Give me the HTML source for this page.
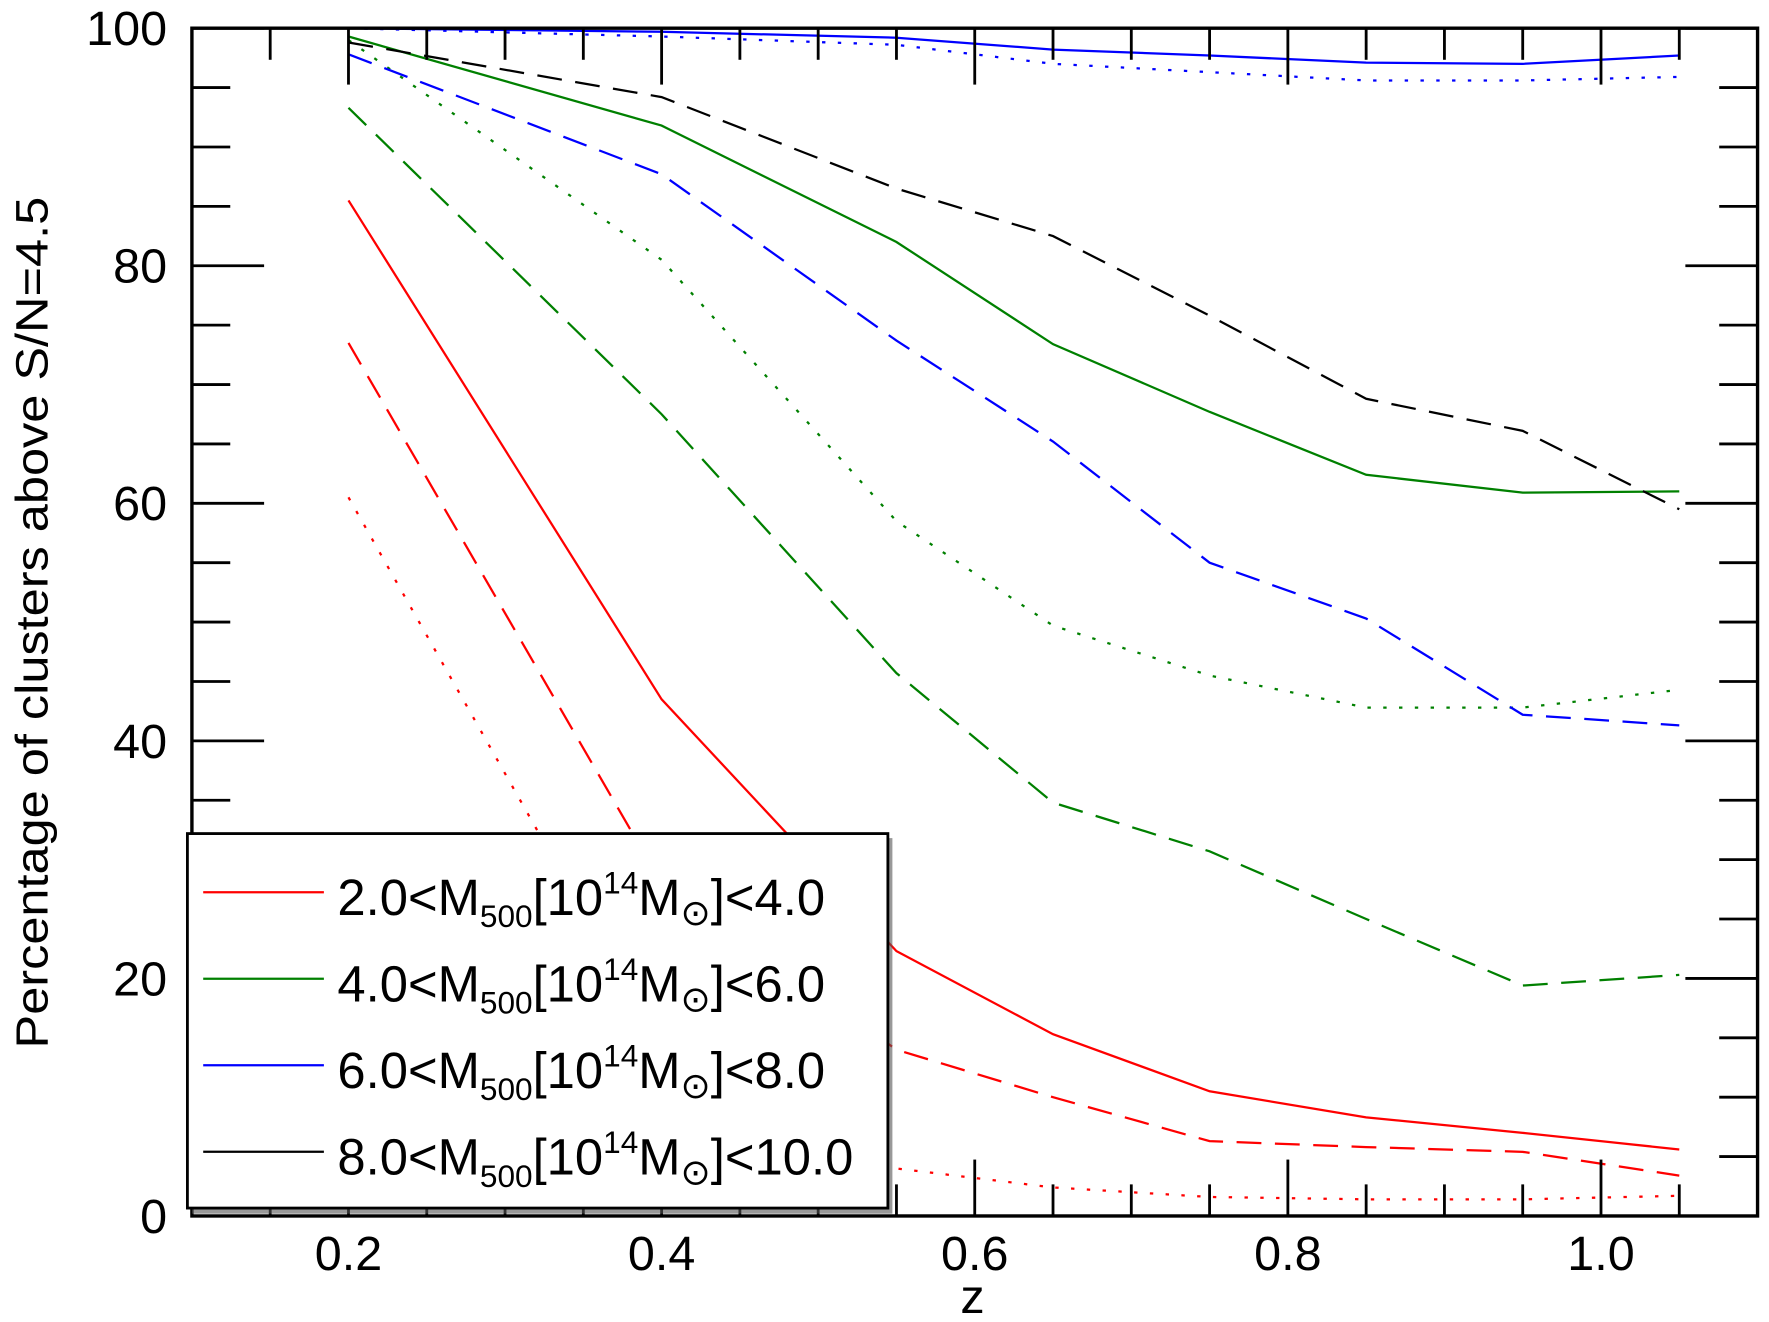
<!DOCTYPE html>
<html><head><meta charset="utf-8"><style>
html,body{margin:0;padding:0;background:#fff;}
svg{display:block;font-family:"Liberation Sans",sans-serif;}
</style></head><body>
<svg id="chart" width="1769" height="1322" viewBox="0 0 1568 1172">
<g id="series"></g>
<g id="axes"></g>
<g id="legend"></g>
</svg>
<script>
const zvals = [0.2, 0.4, 0.55, 0.65, 0.75, 0.85, 0.95, 1.05];
const redSolid = [85.5, 43.5, 22.3, 15.3, 10.5, 8.3, 7.0, 5.6];
const redDashed = [73.5, 28, 14, 10, 6.3, 5.8, 5.4, 3.4];
const redDotted = [60.5, 14, 4, 2.4, 1.6, 1.4, 1.4, 1.7];
const greenSolid = [99.3, 91.8, 82, 73.4, 67.7, 62.4, 60.9, 61];
const greenDashed = [93.3, 67.5, 45.7, 34.8, 30.7, 25, 19.4, 20.3];
const greenDotted = [99, 80.5, 58.5, 49.7, 45.5, 42.8, 42.8, 44.3];
const blueSolid = [100, 99.7, 99.2, 98.2, 97.7, 97.1, 97, 97.7];
const blueDashed = [97.8, 87.7, 73.7, 65.2, 55, 50.3, 42.2, 41.3];
const blueDotted = [100, 99.3, 98.6, 97, 96.3, 95.6, 95.6, 95.9];
const blackSolid = [100, 100, 100, 100, 100, 100, 100, 100];
const blackDashed = [98.8, 94.2, 86.5, 82.5, 75.8, 68.8, 66.1, 59.5];
const blackDotted = [100, 100, 100, 100, 100, 100, 100, 100];
const xTicks = [0.2, 0.4, 0.6, 0.8, 1.0];
const xTickLabels = ["0.2", "0.4", "0.6", "0.8", "1.0"];
const yTicks = [0, 20, 40, 60, 80, 100];
const yTickLabels = ["0", "20", "40", "60", "80", "100"];
const legendLabels = ["2.0", "4.0", "6.0", "8.0"];
const legendUpper = ["4.0", "6.0", "8.0", "10.0"];

const L=170,R=1558,T=25,B=1078,X0=0.1,X1=1.1,Y0=0,Y1=100;
const sx=v=>L+(v-X0)/(X1-X0)*(R-L);
const sy=v=>B-(v-Y0)/(Y1-Y0)*(B-T);
const NS="http://www.w3.org/2000/svg";
function mk(tag,attrs,parent){const e=document.createElementNS(NS,tag);for(const k in attrs)e.setAttribute(k,attrs[k]);parent.appendChild(e);return e;}
const gS=document.getElementById('series'),gA=document.getElementById('axes'),gL=document.getElementById('legend');

const series=[
 [blackSolid,'#000','none','black-solid'],[blackDotted,'#000','3 11','black-dotted'],
 [redSolid,'#f00','none','red-solid'],[redDashed,'#f00','22 12','red-dashed'],[redDotted,'#f00','3 11','red-dotted'],
 [greenSolid,'#008000','none','green-solid'],[greenDashed,'#008000','22 12','green-dashed'],[greenDotted,'#008000','3 11','green-dotted'],
 [blueSolid,'#00f','none','blue-solid'],[blueDashed,'#00f','22 12','blue-dashed'],[blueDotted,'#00f','3 11','blue-dotted'],
 [blackDashed,'#000','22 12','black-dashed']];
series.forEach(s=>{
 const p=mk('polyline',{points:zvals.map((z,i)=>sx(z)+','+sy(s[0][i])).join(' '),fill:'none',stroke:s[1],'stroke-width':2,'stroke-dasharray':s[2]},gS);
 
 
});

const frame=mk('rect',{x:L,y:T,width:R-L,height:B-T,fill:'none',stroke:'#000','stroke-width':3},gA);


for(let k=0;k<=20;k++){const z=0.1+k*0.05;const maj=Math.abs((z*10)%2)<0.01||Math.abs((z*10)%2-2)<0.01;const len=maj?50:28;const x=sx(z);
 mk('line',{x1:x,y1:B,x2:x,y2:B-len,stroke:'#000','stroke-width':2.5},gA);
 mk('line',{x1:x,y1:T,x2:x,y2:T+len,stroke:'#000','stroke-width':2.5},gA);}
for(let k=0;k<=20;k++){const v=k*5;const maj=v%20===0;const len=maj?64:34;const y=sy(v);
 mk('line',{x1:L,y1:y,x2:L+len,y2:y,stroke:'#000','stroke-width':2.5},gA);
 mk('line',{x1:R,y1:y,x2:R-len,y2:y,stroke:'#000','stroke-width':2.5},gA);}
xTicks.forEach((v,i)=>{const t=mk('text',{x:sx(v),y:1126,'font-size':43,'text-anchor':'middle'},gA);t.textContent=xTickLabels[i];
 
 });
yTicks.forEach((v,i)=>{const t=mk('text',{x:148,y:sy(v)+15,'font-size':43,'text-anchor':'end'},gA);t.textContent=yTickLabels[i];
 
 });
const xt=mk('text',{x:862,y:1164,'font-size':43,'text-anchor':'middle'},gA);xt.textContent='z';


const yt=mk('text',{x:0,y:0,'font-size':40,'text-anchor':'middle',textLength:755,lengthAdjust:'spacingAndGlyphs',transform:'translate(42,552) rotate(-90)'},gA);yt.textContent='Percentage of clusters above S/N=4.5';



mk('rect',{x:170,y:743,width:621,height:333,fill:'#555',opacity:0.6},gL);
const box=mk('rect',{x:166,y:739,width:621,height:332,fill:'#fff',stroke:'#000','stroke-width':2.5},gL);


const lc=['#f00','#008000','#00f','#000'];
legendLabels.forEach((lab,i)=>{const y=791+i*76.7;
 const g=mk('g',{},gL);
 
 
 mk('line',{x1:180,y1:y,x2:287,y2:y,stroke:lc[i],'stroke-width':2},g);
 const t=mk('text',{x:299,y:y+20,'font-size':45},g);
 t.innerHTML=lab+'&lt;M<tspan font-size="28" dy="11">500</tspan><tspan dy="-11">[10</tspan><tspan font-size="28" dy="-19">14</tspan><tspan dy="19">M</tspan><tspan font-size="32" dy="9">&#8857;</tspan><tspan dy="-9">]&lt;'+legendUpper[i]+'</tspan>';
});
</script>
</body></html>
